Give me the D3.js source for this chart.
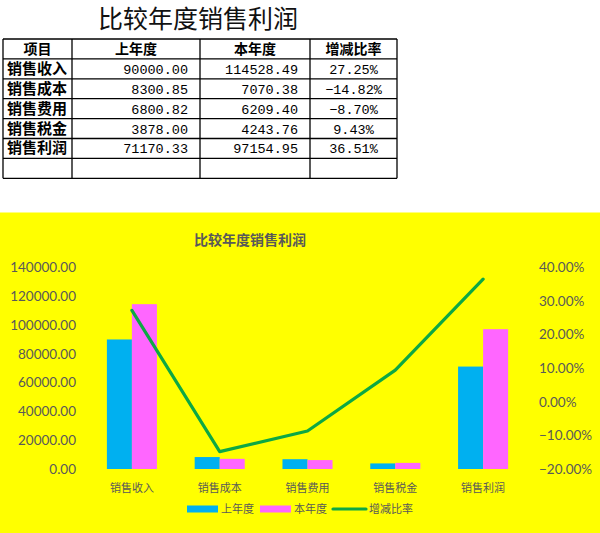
<!DOCTYPE html>
<html>
<head>
<meta charset="utf-8">
<script src="https://cdn.jsdelivr.net/npm/d3@7"></script>
<style>
  body { margin: 0; background: #fff; }
  svg { display: block; }
</style>
</head>
<body>
<svg id="chart"></svg>
<script>
// 表格 / 图表数据
const items = ['销售收入', '销售成本', '销售费用', '销售税金', '销售利润'];
const lastYear = [90000.00, 8300.85, 6800.82, 3878.00, 71170.33];
const thisYear = [114528.49, 7070.38, 6209.40, 4243.76, 97154.95];
const changeRate = [0.2725, -0.1482, -0.0870, 0.0943, 0.3651];
const headers = ['项目', '上年度', '本年度', '增减比率'];
const seriesNames = ['上年度', '本年度', '增减比率'];
const leftTicks = [0, 20000, 40000, 60000, 80000, 100000, 120000, 140000];
const rightTicks = [-0.2, -0.1, 0, 0.1, 0.2, 0.3, 0.4];

const W = 600, H = 533;
const svg = d3.select('#chart').attr('width', W).attr('height', H);

const cjk = '"Noto Sans CJK SC", sans-serif';
const mono = '"Liberation Mono", "DejaVu Sans Mono", monospace';
const latin = 'Lato, "Liberation Sans", sans-serif';
const textColor = '#595959';
const colors = {last: '#00B0F0', cur: '#FF66FF', rate: '#0DA844'};

// ---------- 表格部分 ----------
svg.append('text')
    .attr('x', 198).attr('y', 28)
    .attr('text-anchor', 'middle')
    .style('font-family', cjk).style('font-size', '25px')
    .attr('fill', '#111')
    .text('比较年度销售利润');

const colX = [3, 72, 200, 310, 397];
const rowTop = 39, rowH = 19.9, nRows = 7;
const table = svg.append('g');

// 网格线
for (let i = 0; i <= nRows; i++) {
    table.append('line')
        .attr('x1', colX[0]).attr('x2', colX[colX.length - 1])
        .attr('y1', rowTop + i * rowH).attr('y2', rowTop + i * rowH)
        .attr('stroke', '#000').attr('stroke-width', 1.3);
}
colX.forEach(x => {
    table.append('line')
        .attr('x1', x).attr('x2', x)
        .attr('y1', rowTop).attr('y2', rowTop + nRows * rowH)
        .attr('stroke', '#000').attr('stroke-width', 1.3);
});

// 表头
headers.forEach((h, i) => {
    table.append('text')
        .attr('x', (colX[i] + colX[i + 1]) / 2)
        .attr('y', rowTop + rowH / 2 + 5)
        .attr('text-anchor', 'middle')
        .style('font-family', cjk).style('font-size', '14px').style('font-weight', 700)
        .text(h);
});

const fmtNum = d3.format('.2f');
const fmtPct = d3.format('.2%');
items.forEach((name, r) => {
    const cy = rowTop + (r + 1) * rowH + rowH / 2 + 5;
    table.append('text')
        .attr('x', colX[0] + 4).attr('y', cy)
        .style('font-family', cjk).style('font-size', '15px').style('font-weight', 700)
        .text(name);
    table.append('text')
        .attr('x', colX[2] - 12).attr('y', cy)
        .attr('text-anchor', 'end')
        .style('font-family', mono).style('font-size', '13.5px')
        .text(fmtNum(lastYear[r]));
    table.append('text')
        .attr('x', colX[3] - 12).attr('y', cy)
        .attr('text-anchor', 'end')
        .style('font-family', mono).style('font-size', '13.5px')
        .text(fmtNum(thisYear[r]));
    table.append('text')
        .attr('x', (colX[3] + colX[4]) / 2).attr('y', cy)
        .attr('text-anchor', 'middle')
        .style('font-family', mono).style('font-size', '13.5px')
        .text(fmtPct(changeRate[r]));
});

// ---------- 图表部分 ----------
const chartTop = 212.5;
svg.append('rect')
    .attr('x', 0).attr('y', chartTop)
    .attr('width', W).attr('height', H - chartTop)
    .attr('fill', '#FFFF00');

svg.append('text')
    .attr('x', 250).attr('y', 245)
    .attr('text-anchor', 'middle')
    .style('font-family', cjk).style('font-size', '14px').style('font-weight', 700)
    .attr('fill', textColor)
    .text('比较年度销售利润');

const x = d3.scaleBand()
    .domain(items)
    .range([88, 527])
    .paddingInner(0.43)
    .paddingOuter(0.215);

const xSub = d3.scaleBand()
    .domain(['last', 'cur'])
    .range([0, x.bandwidth()]);

const yL = d3.scaleLinear().domain([0, 140000]).range([469, 267.5]);
const yR = d3.scaleLinear().domain([-0.2, 0.4]).range([469, 267.5]);

// 左轴
const axisL = svg.append('g')
    .attr('transform', 'translate(78,0)')
    .call(d3.axisLeft(yL).tickValues(leftTicks).tickFormat(fmtNum).tickSize(0).tickPadding(2));
// 右轴
const axisR = svg.append('g')
    .attr('transform', 'translate(537,0)')
    .call(d3.axisRight(yR).tickValues(rightTicks).tickFormat(fmtPct).tickSize(0).tickPadding(2));
[axisL, axisR].forEach(a => {
    a.select('.domain').remove();
    a.selectAll('text')
        .attr('fill', textColor)
        .style('font-family', latin).style('font-size', '13.5px');
});

// 柱子
const groups = svg.append('g').selectAll('g')
    .data(items)
    .join('g')
    .attr('transform', d => `translate(${x(d)},0)`);

groups.append('rect')
    .attr('x', xSub('last'))
    .attr('width', xSub.bandwidth())
    .attr('y', (d, i) => yL(lastYear[i]))
    .attr('height', (d, i) => yL(0) - yL(lastYear[i]))
    .attr('fill', colors.last);

groups.append('rect')
    .attr('x', xSub('cur'))
    .attr('width', xSub.bandwidth())
    .attr('y', (d, i) => yL(thisYear[i]))
    .attr('height', (d, i) => yL(0) - yL(thisYear[i]))
    .attr('fill', colors.cur);

// 折线
const line = d3.line()
    .x((d, i) => x(items[i]) + x.bandwidth() / 2)
    .y(d => yR(d));

svg.append('path')
    .datum(changeRate)
    .attr('d', line)
    .attr('fill', 'none')
    .attr('stroke', colors.rate)
    .attr('stroke-width', 3.2)
    .attr('stroke-linejoin', 'round')
    .attr('stroke-linecap', 'round');

// x 轴标签
svg.append('g').selectAll('text')
    .data(items)
    .join('text')
    .attr('x', d => x(d) + x.bandwidth() / 2)
    .attr('y', 492)
    .attr('text-anchor', 'middle')
    .attr('fill', textColor)
    .style('font-family', cjk).style('font-size', '11px')
    .text(d => d);

// 图例
const legend = svg.append('g');
const legendKeys = ['last', 'cur', 'rate'];
let lx = 0;
legendKeys.forEach((k, i) => {
    const item = legend.append('g').attr('transform', `translate(${lx},0)`);
    if (k === 'rate') {
        item.append('line')
            .attr('x1', 0).attr('x2', 33).attr('y1', 0).attr('y2', 0)
            .attr('stroke', colors.rate).attr('stroke-width', 3.2)
            .attr('stroke-linecap', 'round');
    } else {
        item.append('rect')
            .attr('x', 0).attr('y', -3.5).attr('width', 31).attr('height', 7)
            .attr('fill', colors[k]);
    }
    const sw = k === 'rate' ? 33 : 31;
    const t = item.append('text')
        .attr('x', sw + 3).attr('y', 4)
        .attr('fill', textColor)
        .style('font-family', cjk).style('font-size', '11px')
        .text(seriesNames[i]);
    lx += sw + 3 + t.node().getComputedTextLength() + 6;
});
legend.attr('transform', `translate(${300 - (lx - 6) / 2},509)`);
</script>
</body>
</html>
